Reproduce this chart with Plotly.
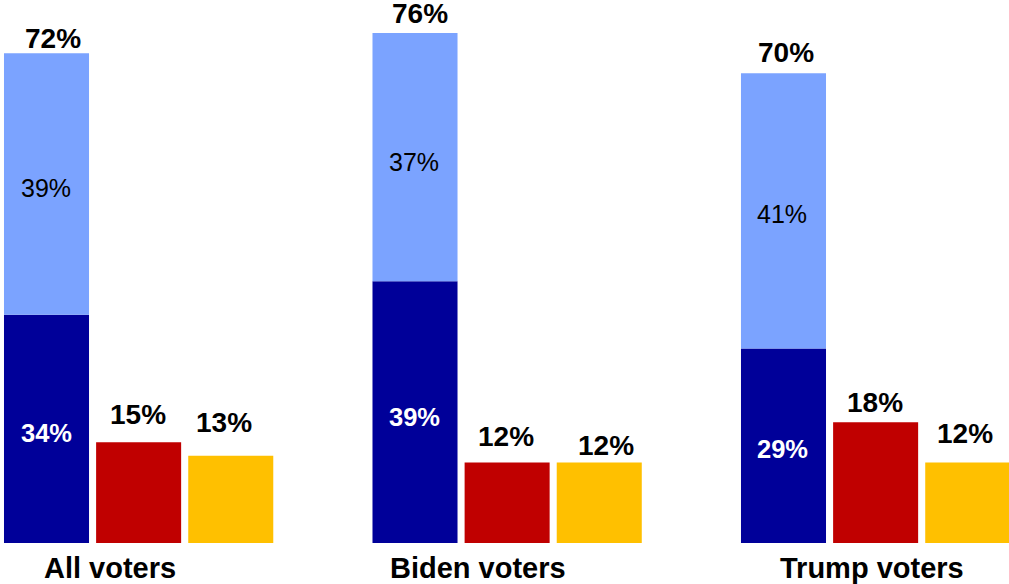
import plotly.graph_objects as go

# Survey shares (%) by group
groups = ["All voters", "Biden voters", "Trump voters"]
strong = [34, 39, 29]        # dark blue, bottom of stack
somewhat = [39, 37, 41]      # light blue, top of stack
totals = ["72%", "76%", "70%"]
red_vals = [15, 12, 18]
yellow_vals = [13, 12, 12]

# Bar slots along a numeric axis: stack, red, yellow per group
stack_x = [0, 4, 8]
red_x = [1, 5, 9]
yellow_x = [2, 6, 10]
label_x = [0.689, 4.684, 8.961]

DARK = "#000099"
LIGHT = "#7BA3FF"
RED = "#C00000"
YELLOW = "#FFC000"
FONT = "Liberation Sans, Arial, sans-serif"
BW = 0.923

PX_PER_UNIT = 6.71  # vertical pixels per percentage point

fig = go.Figure()
fig.add_bar(x=stack_x, y=strong, marker_color=DARK, width=BW, marker_line_width=0)
fig.add_bar(x=stack_x, y=somewhat, base=strong, marker_color=LIGHT, width=BW, marker_line_width=0)
fig.add_bar(x=red_x, y=red_vals, marker_color=RED, width=BW, marker_line_width=0)
fig.add_bar(x=yellow_x, y=yellow_vals, marker_color=YELLOW, width=BW, marker_line_width=0)

ann = []

def label(x, y, text, size, color, bold=True, xshift=0, yshift=0):
    ann.append(dict(
        x=x, y=y, xref="x", yref="y", text=f"<b>{text}</b>" if bold else text,
        showarrow=False, xanchor="center", yanchor="middle",
        xshift=xshift, yshift=yshift,
        font=dict(family=FONT, size=size, color=color),
    ))

# Totals above the stacked bars
tot_dx = [6, 4.5, 2.5]
tot_dy = [14.4, 19.3, 21]
for i in range(3):
    top = strong[i] + somewhat[i]
    label(stack_x[i], top, totals[i], 28, "black", xshift=tot_dx[i], yshift=tot_dy[i])

# Segment labels inside the stack
seg_dy = [-4, -5, -3]
seg_dx = [-0.5, -1, -1.5]
for i in range(3):
    label(stack_x[i], strong[i] / 2, f"{strong[i]}%", 25.5, "white",
          xshift=seg_dx[i], yshift=seg_dy[i])
    label(stack_x[i], strong[i] + somewhat[i] / 2, f"{somewhat[i]}%", 25, "black",
          bold=False, xshift=seg_dx[i], yshift=seg_dy[i])

# Value labels above red and yellow bars
red_dx = [-1, -1, -0.8]
red_dy = [27.4, 26.3, 20.2]
yel_dx = [-6.3, 7, -3]
yel_dy = [32.8, 16.5, 29.3]
for i in range(3):
    label(red_x[i], red_vals[i], f"{red_vals[i]}%", 28, "black",
          xshift=red_dx[i], yshift=red_dy[i])
    label(yellow_x[i], yellow_vals[i], f"{yellow_vals[i]}%", 28, "black",
          xshift=yel_dx[i], yshift=yel_dy[i])

# Group names under the bars
for i in range(3):
    label(label_x[i], 0, groups[i], 29, "black", yshift=-25)

fig.update_layout(
    width=1009, height=584,
    margin=dict(l=0, r=0, t=5, b=41, pad=0),
    barmode="overlay",
    showlegend=False,
    plot_bgcolor="white", paper_bgcolor="white",
    xaxis=dict(range=[-0.5048, 10.4478], visible=False, fixedrange=True),
    yaxis=dict(range=[0, 538 / PX_PER_UNIT], visible=False, fixedrange=True),
    annotations=ann,
)

fig.write_html("out.html", config={"displayModeBar": False})
